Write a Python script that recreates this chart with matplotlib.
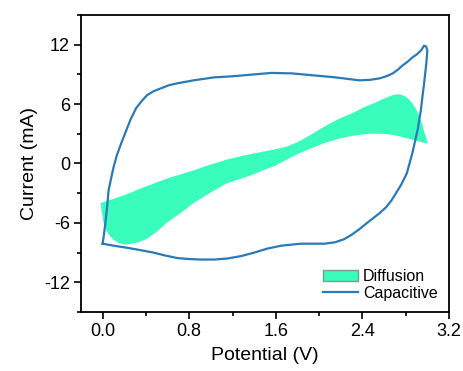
import matplotlib
matplotlib.use("Agg")
import matplotlib.pyplot as plt
from matplotlib.ticker import MultipleLocator

plt.rcParams["font.family"] = ["Liberation Sans", "DejaVu Sans"]

# capacitive CV loop: anodic sweep up, cathodic sweep back
cap_v = [0.00, 0.02, 0.04, 0.055, 0.08, 0.10, 0.13, 0.17, 0.22, 0.26, 0.31, 0.36,
         0.41, 0.47, 0.54, 0.61, 0.69, 0.84, 1.03, 1.19, 1.40, 1.56, 1.75, 1.95,
         2.15, 2.37, 2.47, 2.56, 2.63, 2.68, 2.73, 2.77, 2.82, 2.86, 2.90, 2.94,
         2.97, 2.99, 3.00,
         2.99, 2.98, 2.97, 2.955, 2.94, 2.925, 2.91, 2.885, 2.86, 2.835, 2.81,
         2.76, 2.71, 2.67, 2.62, 2.56, 2.49, 2.42, 2.37, 2.30, 2.23, 2.15, 2.05,
         1.95, 1.83, 1.74, 1.65, 1.52, 1.40, 1.28, 1.15, 1.03, 0.91, 0.80, 0.69,
         0.58, 0.47, 0.35, 0.22, 0.10, 0.00]
cap_i = [-8.1, -6.5, -4.5, -2.7, -1.4, -0.4, 0.8, 2.0, 3.4, 4.5, 5.6, 6.3,
         6.9, 7.3, 7.6, 7.9, 8.1, 8.4, 8.7, 8.8, 9.0, 9.15, 9.1, 8.9,
         8.7, 8.4, 8.45, 8.6, 8.85, 9.1, 9.5, 9.9, 10.3, 10.7, 11.0, 11.4,
         11.9, 11.8, 11.4,
         10.1, 9.1, 8.1, 6.8, 5.4, 4.4, 3.4, 2.2, 1.0, 0.0, -1.0,
         -2.1, -3.0, -3.7, -4.4, -5.0, -5.6, -6.2, -6.65, -7.2, -7.65, -7.95, -8.1,
         -8.1, -8.1, -8.2, -8.3, -8.6, -9.0, -9.35, -9.6, -9.7, -9.7, -9.65, -9.55,
         -9.3, -9.0, -8.75, -8.5, -8.3, -8.1]

# diffusion contribution: upper and lower boundaries of the shaded band
diff_v_upper = [-0.02, 0.20, 0.38, 0.60, 0.84, 1.00, 1.15, 1.30, 1.44, 1.58,
                1.70, 1.81, 1.94, 2.06, 2.18, 2.31, 2.42, 2.53, 2.61, 2.68,
                2.73, 2.77, 2.82, 2.86, 2.90, 2.93, 2.955, 2.97, 2.99, 3.00]
diff_i_upper = [-4.0, -3.2, -2.4, -1.5, -0.7, -0.1, 0.4, 0.8, 1.1, 1.4,
                1.7, 2.2, 3.0, 3.8, 4.5, 5.1, 5.7, 6.2, 6.6, 6.9,
                7.0, 6.9, 6.6, 6.1, 5.4, 4.7, 3.9, 3.2, 2.6, 2.2]
diff_v_lower = [3.00, 2.95, 2.88, 2.81, 2.74, 2.68, 2.58, 2.46, 2.38, 2.31,
                2.18, 2.06, 1.94, 1.81, 1.70, 1.60, 1.48, 1.37, 1.26, 1.15,
                1.00, 0.84, 0.72, 0.59, 0.50, 0.41, 0.32, 0.22, 0.15, 0.10,
                0.05, 0.01, -0.02]
diff_i_lower = [2.0, 2.15, 2.35, 2.55, 2.75, 2.9, 3.0, 3.0, 2.9, 2.8,
                2.5, 2.1, 1.6, 1.0, 0.4, -0.2, -0.7, -1.2, -1.6, -2.0,
                -2.9, -4.0, -5.0, -6.0, -6.9, -7.6, -8.0, -8.2, -8.05, -7.7,
                -7.1, -6.1, -4.0]

fig = plt.figure(figsize=(4.64, 3.71), dpi=100)
ax = fig.add_axes([0.1746, 0.159, 0.7931, 0.8006])

ax.fill(diff_v_upper + diff_v_lower, diff_i_upper + diff_i_lower,
        facecolor="#38FDBB", linewidth=0, label="Diffusion")
ax.plot(cap_v, cap_i, color="#2a7ab8", linewidth=1.6, label="Capacitive",
        solid_joinstyle="round")

ax.set_xlim(-0.2, 3.2)
ax.set_ylim(-15, 15)
ax.xaxis.set_minor_locator(MultipleLocator(0.4))
ax.yaxis.set_minor_locator(MultipleLocator(3))
ax.set_xticks([0.0, 0.8, 1.6, 2.4, 3.2])
ax.set_xticklabels(["0.0", "0.8", "1.6", "2.4", "3.2"])
ax.set_yticks([-12, -6, 0, 6, 12])
ax.set_yticklabels(["-12", "-6", "0", "6", "12"])

ax.tick_params(which="major", direction="out", length=5, width=1.2, labelsize=13, pad=3)
ax.tick_params(which="minor", direction="out", length=3, width=1.2)
for s in ax.spines.values():
    s.set_linewidth(1.3)

ax.set_xlabel("Potential (V)", fontsize=14, labelpad=5)
ax.set_ylabel("Current (mA)", fontsize=14, labelpad=4)

leg = ax.legend(loc="lower right", frameon=False, fontsize=11.5, handlelength=2.2,
                handletextpad=0.3, labelspacing=0.1, borderaxespad=0.3)
leg.legend_handles[0].set_edgecolor("#7a9a8c")
leg.legend_handles[0].set_linewidth(1.0)

fig.savefig("out.png", dpi=100)
